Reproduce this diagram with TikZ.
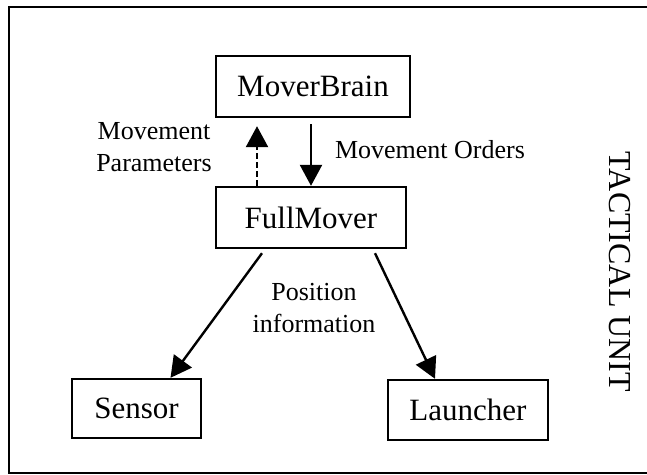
\documentclass[tikz,border=0pt]{standalone}
\usepackage{fontspec}
\setmainfont{Liberation Serif}
\usetikzlibrary{arrows.meta,positioning}

\tikzset{
  part/.style={draw, line width=2.4pt, inner sep=0pt, font=\fontsize{31}{36}\selectfont},
  msg/.style={align=center, inner sep=0pt, font=\fontsize{26}{32}\selectfont},
  flow/.style={line width=2.4pt, -{Triangle[length=21pt,width=22pt]}}
}

\begin{document}
\begin{tikzpicture}[x=1pt,y=-1pt]
                \useasboundingbox (0,0) rectangle (647,474);
                % unit frame, open to the right
                \draw[line width=2.4pt] (647,7) -- (9,7) -- (9,473) -- (647,473);
                \node[part, minimum width=194pt, minimum height=61pt] (brain) at (313,86.5) {MoverBrain};
                \node[part, minimum width=190pt, minimum height=61pt] (mover) at (311,217.5) {FullMover};
                \node[part, minimum width=129pt, minimum height=59pt] (sensor) at (136.5,408.5) {Sensor};
                \node[part, minimum width=160pt, minimum height=60pt] (launcher) at (468,410) {Launcher};
                \node[rotate=-90, inner sep=0pt, font=\fontsize{32}{38}\selectfont] (unit) at (620,272) {TACTICAL UNIT};
                \node[msg] (params) at (154,147) {Movement\\Parameters};
                \node[msg] (orders) at (430,150) {Movement Orders};
                \node[msg] (posinfo) at (314,308) {Position\\information};
                \path[flow]
                ([xshift=-2pt,yshift=-6pt]brain.south) edge (mover.north)
                ([xshift=-54pt]mover.north) edge[dash pattern=on 6pt off 3pt] ([xshift=-56pt,yshift=-8pt]brain.south)
                ([xshift=-49pt,yshift=-4pt]mover.south) edge ([xshift=34pt]sensor.north)
                ([xshift=64pt,yshift=-4pt]mover.south) edge ([xshift=-33pt]launcher.north);
            \end{tikzpicture}
\end{document}
